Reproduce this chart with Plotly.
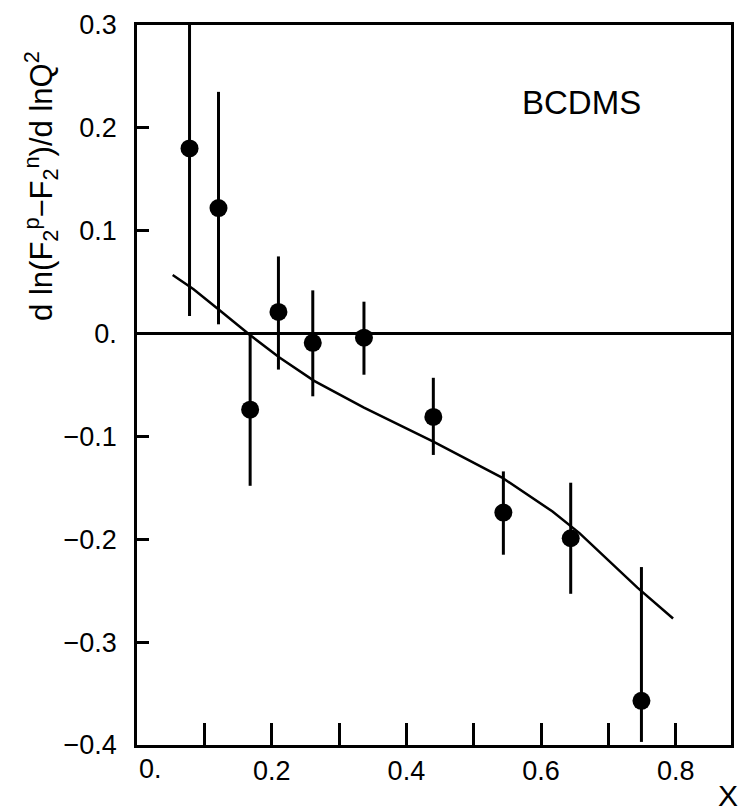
import plotly.graph_objects as go

# data points
x_data = [0.078, 0.121, 0.168, 0.210, 0.261, 0.337, 0.440, 0.544, 0.644, 0.749]
y_data = [0.180, 0.122, -0.074, 0.021, -0.009, -0.004, -0.081, -0.174, -0.199, -0.357]
y_err_up = [0.14, 0.113, 0.074, 0.054, 0.051, 0.035, 0.038, 0.040, 0.054, 0.130]
y_err_down = [0.163, 0.113, 0.074, 0.056, 0.052, 0.036, 0.037, 0.041, 0.054, 0.040]

# theory curve
x_curve = [0.053, 0.084, 0.124, 0.165, 0.211, 0.263, 0.337, 0.440, 0.542, 0.617, 0.657, 0.702, 0.743, 0.796]
y_curve = [0.057, 0.043, 0.022, 0.0, -0.023, -0.046, -0.072, -0.105, -0.140, -0.173, -0.194, -0.222, -0.247, -0.277]

# ticks
x_tickvals = [0.1, 0.2, 0.3, 0.4, 0.5, 0.6, 0.7, 0.8]
x_ticktext = ["", "0.2", "", "0.4", "", "0.6", "", "0.8"]
y_tickvals = [0.3, 0.2, 0.1, 0.0, -0.1, -0.2, -0.3, -0.4]
y_ticktext = ["0.3", "0.2", "0.1", "0.", "\u22120.1", "\u22120.2", "\u22120.3", "\u22120.4"]

FONT = "Liberation Sans, Arial, Helvetica, sans-serif"

fig = go.Figure()
fig.add_trace(go.Scatter(
    x=x_curve, y=y_curve, mode="lines",
    line=dict(color="black", width=2.5), showlegend=False,
))
fig.add_trace(go.Scatter(
    x=x_data, y=y_data, mode="markers",
    marker=dict(color="black", size=18, symbol="circle"),
    error_y=dict(type="data", symmetric=False, array=y_err_up, arrayminus=y_err_down,
                 color="black", thickness=3, width=0),
    showlegend=False,
))

fig.update_layout(
    width=744, height=811,
    margin=dict(l=137, r=10, t=16, b=66),
    paper_bgcolor="white", plot_bgcolor="white",
    font=dict(family=FONT, size=27, color="black"),
    xaxis=dict(
        range=[0, 0.882], showgrid=False, zeroline=False,
        showline=True, linecolor="black", linewidth=2.5, mirror=True,
        ticks="inside", ticklen=22, tickwidth=2.5, tickcolor="black",
        tickmode="array", tickvals=x_tickvals, ticktext=x_ticktext,
        tickfont=dict(size=27),
    ),
    yaxis=dict(
        range=[-0.4, 0.3], showgrid=False,
        zeroline=True, zerolinecolor="black", zerolinewidth=2.5,
        showline=True, linecolor="black", linewidth=2.5, mirror=True,
        ticks="inside", ticklen=12, tickwidth=2.5, tickcolor="black",
        tickmode="array", tickvals=y_tickvals, ticktext=y_ticktext,
        tickfont=dict(size=27), ticklabelstandoff=12,
    ),
    annotations=[
        dict(text="BCDMS", x=0.66, y=0.225, xref="x", yref="y", showarrow=False,
             font=dict(size=33), xanchor="center", yanchor="middle"),
        dict(text="X", xref="paper", yref="paper", x=0.995, y=-0.07, showarrow=False,
             font=dict(size=30), xanchor="center", yanchor="middle"),
        dict(text="0.", xref="x", yref="paper", x=0.02, y=-0.01, showarrow=False,
             font=dict(size=27), xanchor="center", yanchor="top"),
        dict(text="d ln(F<sub>2</sub><sup>p</sup>\u2212F<sub>2</sub><sup>n</sup>)/d lnQ<sup>2</sup>",
             xref="paper", yref="paper", x=-0.161, y=0.777, textangle=-90,
             showarrow=False, font=dict(size=31), xanchor="center", yanchor="middle"),
    ],
)

fig.write_html(
    "out.html", config={"displayModeBar": False},
    post_script=("document.body.style.margin='0px';"
                 "document.body.style.overflow='hidden';"
                 "document.documentElement.style.overflow='hidden';"),
)
